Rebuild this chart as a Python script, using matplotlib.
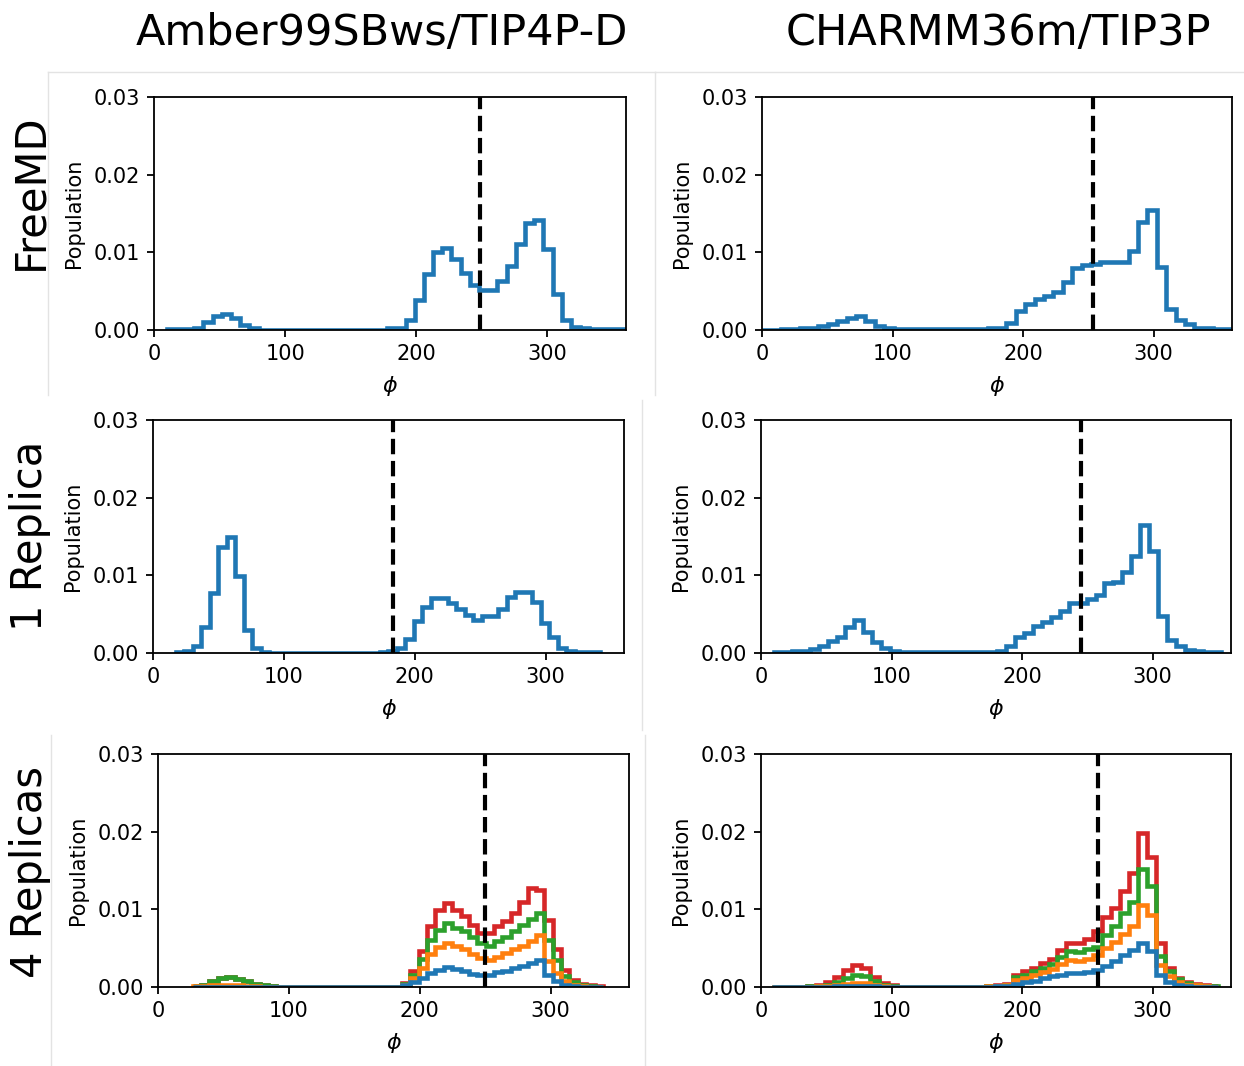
import numpy as np
import matplotlib
matplotlib.use("Agg")
import matplotlib.pyplot as plt
from matplotlib.lines import Line2D

plt.rcParams['font.family'] = ['DejaVu Sans']

# ---------------- data ----------------
col_titles = ["Amber99SBws/TIP4P-D", "CHARMM36m/TIP3P"]
row_titles = ["FreeMD", "1 Replica", "4 Replicas"]
xticks = [0, 100, 200, 300]
yticks = [0.00, 0.01, 0.02, 0.03]
replica_colors = ["#1f77b4", "#ff7f0e", "#2ca02c", "#d62728"]

# bin ranges (phi, degrees) of each histogram
range_amber_free = (9.7, 360.0)
range_charmm_free = (0.0, 360.0)
range_amber_1rep = (17.3, 342.0)
range_charmm_1rep = (10.0, 352.0)
range_amber_4rep = (26.5, 340.1)
range_charmm_4rep = (8.2, 350.2)

# reference phi (dashed line)
ref_amber_free = 248.3
ref_charmm_free = 253.6
ref_amber_1rep = 183.8
ref_charmm_1rep = 245.1
ref_amber_4rep = 250.3
ref_charmm_4rep = 258.0

amber_free = ([0.0001, 0.0001, 0.0001, 0.0003, 0.0010, 0.0018, 0.0020, 0.0015, 0.0006, 0.0003]
              + [0.00005] * 14
              + [0.0002, 0.0003, 0.0013, 0.0038, 0.0072, 0.0100, 0.0106, 0.0092, 0.0074, 0.0058,
                 0.0052, 0.0052, 0.0063, 0.0082, 0.0111, 0.0138, 0.0142, 0.0104, 0.0046, 0.0013,
                 0.0004, 0.0002, 0.0001, 0.0001, 0.0001, 0.0001])

charmm_free = ([0.00005, 0.00005, 0.0001, 0.0001, 0.0002, 0.0003, 0.0005, 0.0008, 0.0011, 0.0015,
                0.0018, 0.0012, 0.0005, 0.0002]
               + [0.0001] * 8 + [0.00015, 0.00015, 0.0002]
               + [0.0003, 0.0009, 0.0025, 0.0034, 0.0040, 0.0044, 0.0049, 0.0062, 0.0080, 0.0084,
                  0.0085, 0.0087, 0.0087, 0.0088, 0.0102, 0.0139, 0.0155, 0.0081, 0.0027, 0.0013,
                  0.0008, 0.0003, 0.0002, 0.0001, 0.0001])

amber_1rep = ([0.0001, 0.0003, 0.0009, 0.0033, 0.0077, 0.0136, 0.0150, 0.0099, 0.0030, 0.0006, 0.0001]
              + [0.00005] * 13 + [0.0001]
              + [0.0002, 0.0006, 0.0018, 0.0041, 0.0059, 0.0071, 0.0071, 0.0064, 0.0057, 0.0049,
                 0.0043, 0.0047, 0.0047, 0.0057, 0.0072, 0.0078, 0.0078, 0.0066, 0.0039, 0.0020,
                 0.0006, 0.0002, 0.0001, 0.0001, 0.0001])

charmm_1rep = ([0.0001, 0.0001, 0.0002, 0.0003, 0.0005, 0.0009, 0.0015, 0.0020, 0.0033, 0.0042,
                0.0027, 0.0014, 0.0006, 0.0002]
               + [0.00008] * 11
               + [0.0003, 0.0009, 0.0020, 0.0026, 0.0035, 0.0040, 0.0046, 0.0054, 0.0065, 0.0065,
                  0.0070, 0.0075, 0.0090, 0.0091, 0.0104, 0.0125, 0.0165, 0.0131, 0.0048, 0.0017,
                  0.0009, 0.0004, 0.0002, 0.0001, 0.0001])

# 4 replicas (stacked), Amber
amber_rep1 = ([0.00005] * 10 + [0.00003] * 15
              + [0.0002, 0.0006, 0.0012, 0.0018, 0.0022, 0.0026, 0.0023, 0.0020, 0.0017, 0.0016,
                 0.0016, 0.0019, 0.0021, 0.0024, 0.0027, 0.0031, 0.0035, 0.0016, 0.0008, 0.0003,
                 0.0001, 0.00005, 0.00003, 0.00003])
amber_rep2 = ([0.00002, 0.00007, 0.00017, 0.00027, 0.00027, 0.00017, 0.00007, 0.00002, 0.0, 0.0]
              + [0.0] * 15
              + [0.0001, 0.0006, 0.0012, 0.0024, 0.0029, 0.0031, 0.0030, 0.0029, 0.0026, 0.0021,
                 0.0019, 0.0020, 0.0023, 0.0025, 0.0026, 0.0028, 0.0032, 0.0018, 0.0010, 0.0005,
                 0.0002, 0.00005, 0.00002, 0.0])
amber_rep3 = ([0.00005, 0.0002, 0.0005, 0.0009, 0.0010, 0.0008, 0.0006, 0.00035, 0.0002, 0.0001]
              + [0.0] * 15
              + [0.0001, 0.0004, 0.0012, 0.0019, 0.0023, 0.0025, 0.0023, 0.0023, 0.0022, 0.0020,
                 0.0018, 0.0020, 0.0020, 0.0023, 0.0027, 0.0028, 0.0028, 0.0026, 0.0017, 0.0006,
                 0.0003, 0.0001, 0.00005, 0.00002])
amber_rep4 = ([0.0] * 25
              + [0.0001, 0.0005, 0.0010, 0.0017, 0.0025, 0.0026, 0.0023, 0.0019, 0.0015, 0.0012,
                 0.0017, 0.0019, 0.0021, 0.0023, 0.0030, 0.0041, 0.0030, 0.0026, 0.0014, 0.0008,
                 0.0003, 0.0002, 0.0001, 0.00005])

# 4 replicas (stacked), CHARMM
charmm_rep1 = ([0.00002, 0.00002, 0.00002, 0.00003, 0.00004, 0.00005, 0.00006, 0.0001, 0.0001, 0.0001,
                0.0001, 0.00008, 0.00005, 0.00003]
               + [0.00002] * 9 + [0.00003, 0.00005, 0.00008]
               + [0.0001, 0.0004, 0.0006, 0.0008, 0.0011, 0.0014, 0.0016, 0.0018, 0.0018, 0.0019,
                  0.0022, 0.0027, 0.0033, 0.0041, 0.0047, 0.0057, 0.0046, 0.0016, 0.0006, 0.0003,
                  0.0001, 0.00005, 0.00003, 0.00002])
charmm_rep2 = ([0.0, 0.0, 0.0, 0.0, 0.0, 0.00003, 0.00005, 0.0001, 0.0003, 0.0004, 0.0004, 0.0002,
                0.00005, 0.00002]
               + [0.0] * 10 + [0.00002, 0.00005]
               + [0.0001, 0.0005, 0.0006, 0.0007, 0.0008, 0.0009, 0.0014, 0.0017, 0.0016, 0.0017,
                  0.0019, 0.0023, 0.0025, 0.0027, 0.0031, 0.0049, 0.0047, 0.0012, 0.0008, 0.0004,
                  0.0002, 0.00015, 0.00007, 0.00003])
charmm_rep3 = ([0.0, 0.0, 0.0, 0.0, 0.00005, 0.00007, 0.0002, 0.0005, 0.0008, 0.0010, 0.0009, 0.0005,
                0.0002, 0.0001]
               + [0.0] * 11 + [0.00005]
               + [0.0001, 0.0004, 0.0004, 0.0005, 0.0005, 0.0007, 0.0009, 0.0011, 0.0011, 0.0013,
                  0.0011, 0.0017, 0.0021, 0.0027, 0.0031, 0.0046, 0.0037, 0.0012, 0.0006, 0.0003,
                  0.0002, 0.0001, 0.00005, 0.00003])
charmm_rep4 = ([0.0, 0.0, 0.0, 0.0, 0.00005, 0.0001, 0.0003, 0.0006, 0.0010, 0.0013, 0.0011, 0.0005,
                0.0002, 0.0001]
               + [0.0] * 11 + [0.00005]
               + [0.0001, 0.0003, 0.0004, 0.0005, 0.0007, 0.0006, 0.0008, 0.0011, 0.0012, 0.0013,
                  0.0020, 0.0023, 0.0023, 0.0028, 0.0038, 0.0046, 0.0037, 0.0017, 0.0004, 0.0002,
                  0.0001, 0.0001, 0.00005, 0.00002])

# ---------------- figure ----------------
W, H = 1244, 1066
fig = plt.figure(figsize=(W / 100, H / 100), dpi=100)


def px_axes(left, right, top, bottom):
    return fig.add_axes([left / W, 1 - bottom / H, (right - left) / W, (bottom - top) / H])


# faint borders of the original sub-images
border_color = "#e3e3e3"
for (x0, y0, x1, y1) in [(48, 72, 48, 395), (48, 72, 655, 72), (655, 72, 655, 395),
                         (655, 72, 1244, 72), (642, 400, 642, 730),
                         (51, 735, 51, 1066), (645, 735, 645, 1066)]:
    fig.add_artist(Line2D([x0 / W, x1 / W], [1 - y0 / H, 1 - y1 / H],
                          transform=fig.transFigure, color=border_color, lw=1))

axes_px = [
    (154, 626, 97, 330), (762, 1232, 97, 330),
    (153, 624, 420, 653), (761, 1231, 420, 653),
    (158, 629, 754, 987), (761, 1231, 754, 987),
]
axes = [px_axes(*p) for p in axes_px]

single = [
    (axes[0], amber_free, range_amber_free, ref_amber_free),
    (axes[1], charmm_free, range_charmm_free, ref_charmm_free),
    (axes[2], amber_1rep, range_amber_1rep, ref_amber_1rep),
    (axes[3], charmm_1rep, range_charmm_1rep, ref_charmm_1rep),
]
for ax, vals, rng, ref in single:
    edges = np.linspace(rng[0], rng[1], len(vals) + 1)
    centers = 0.5 * (edges[:-1] + edges[1:])
    ax.hist(centers, bins=edges, weights=vals, histtype="step", lw=3.3,
            color=replica_colors[0])
    ax.axvline(ref, color="black", ls="--", lw=3)

stacked = [
    (axes[4], [amber_rep1, amber_rep2, amber_rep3, amber_rep4], range_amber_4rep, ref_amber_4rep),
    (axes[5], [charmm_rep1, charmm_rep2, charmm_rep3, charmm_rep4], range_charmm_4rep, ref_charmm_4rep),
]
for ax, series, rng, ref in stacked:
    edges = np.linspace(rng[0], rng[1], len(series[0]) + 1)
    centers = 0.5 * (edges[:-1] + edges[1:])
    ax.hist([centers] * 4, bins=edges, weights=series, histtype="step", stacked=True,
            lw=3.3, color=replica_colors)
    ax.axvline(ref, color="black", ls="--", lw=3)

for ax in axes:
    ax.set_xlim(0, 360)
    ax.set_ylim(0, 0.03)
    ax.set_xticks(xticks)
    ax.set_yticks(yticks)
    ax.yaxis.set_major_formatter(matplotlib.ticker.FormatStrFormatter("%.2f"))
    ax.tick_params(labelsize=15, width=1.3, length=5, pad=5)
    for s in ax.spines.values():
        s.set_linewidth(1.3)
    ax.set_xlabel(r"$\phi$", fontsize=16, labelpad=7)
    ax.set_ylabel("Population", fontsize=15, labelpad=7)

# column titles
fig.text(382 / W, 1 - 33 / H, col_titles[0], fontsize=31, ha="center", va="center")
fig.text(998 / W, 1 - 33 / H, col_titles[1], fontsize=31, ha="center", va="center")
# row titles
for label, yc in zip(row_titles, [192, 536, 872]):
    fig.text(30 / W, 1 - yc / H, label, fontsize=30, rotation=90, ha="center", va="center")

fig.savefig("out.png", dpi=100)
